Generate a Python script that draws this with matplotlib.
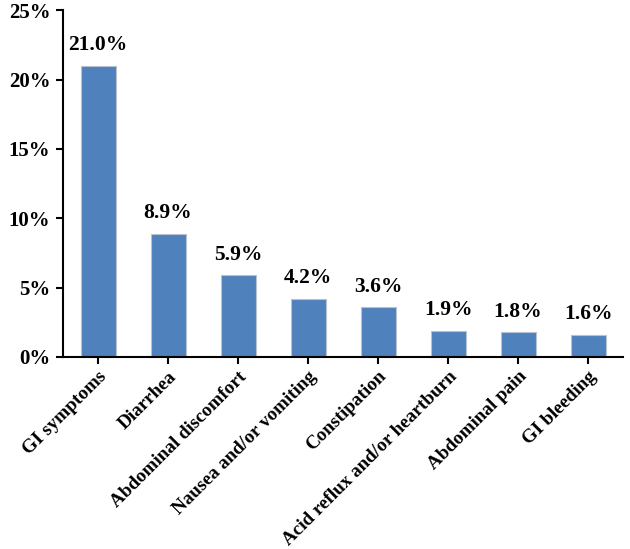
import matplotlib.pyplot as plt
from matplotlib.ticker import FuncFormatter

categories = ["GI symptoms", "Diarrhea", "Abdominal discomfort", "Nausea and/or vomiting",
              "Constipation", "Acid reflux and/or heartburn", "Abdominal pain", "GI bleeding"]
values = [21.0, 8.9, 5.9, 4.2, 3.6, 1.9, 1.8, 1.6]
value_labels = ["21.0%", "8.9%", "5.9%", "4.2%", "3.6%", "1.9%", "1.8%", "1.6%"]

plt.rcParams['font.family'] = ['Liberation Serif', 'DejaVu Serif']
plt.rcParams['font.weight'] = 'bold'

fig = plt.figure(figsize=(6.3, 5.49), dpi=100)
ax = fig.add_axes([0.1, 0.35, 0.889, 0.631])

x = list(range(len(categories)))
bars = ax.bar(x, values, width=0.5, color="#4F81BD", edgecolor="#B9C3CF", linewidth=0.8)

for b, lab in zip(bars, value_labels):
    ax.text(b.get_x() + b.get_width() / 2, b.get_height() + 0.75, lab,
            ha="center", va="bottom", fontsize=15.5, fontweight="bold")

ax.set_xlim(-0.5, len(categories) - 0.5)
ax.set_ylim(0, 25)
ax.set_yticks([0, 5, 10, 15, 20, 25])
ax.yaxis.set_major_formatter(FuncFormatter(lambda v, p: f"{v:.0f}%"))
ax.set_xticks(x)
ax.set_xticklabels(categories, rotation=45, ha="right", rotation_mode="anchor", fontsize=13.8)

ax.spines["top"].set_visible(False)
ax.spines["right"].set_visible(False)
ax.spines["left"].set_linewidth(1.5)
ax.spines["bottom"].set_linewidth(1.5)
ax.tick_params(axis="y", labelsize=15, width=1.5, length=5, pad=4)
ax.tick_params(axis="x", width=1.5, length=5, pad=3)

fig.savefig("out.png", dpi=100)
